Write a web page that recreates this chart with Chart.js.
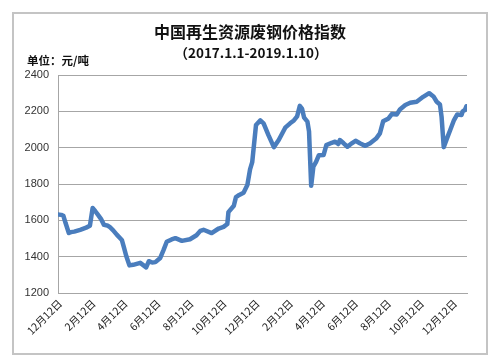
<!DOCTYPE html>
<html>
<head>
<meta charset="utf-8">
<script src="https://cdn.jsdelivr.net/npm/chart.js@4.4.0/dist/chart.umd.min.js"></script>
<style>
  html, body { margin: 0; padding: 0; background: #fff; }
  #wrap { position: relative; width: 500px; height: 363px; }
  #frame { position: absolute; left: 12px; top: 12px; width: 472px; height: 339px; border: 2px solid #c4c4c4; }
  #c { position: absolute; left: 0; top: 0; }
</style>
</head>
<body>
<div id="wrap">
  <div id="frame"></div>
  <canvas id="c" width="500" height="363"></canvas>
</div>
<script>
const titleText = '中国再生资源废钢价格指数';
const subtitleText = '（2017.1.1-2019.1.10）';
const unitText = '单位：元/吨';

const baseDate = '2016-12-12';
const tickDates = ['2016-12-12','2017-02-12','2017-04-12','2017-06-12','2017-08-12','2017-10-12','2017-12-12',
                   '2018-02-12','2018-04-12','2018-06-12','2018-08-12','2018-10-12','2018-12-12'];
const tickLabels = ['12月12日','2月12日','4月12日','6月12日','8月12日','10月12日','12月12日',
                    '2月12日','4月12日','6月12日','8月12日','10月12日','12月12日'];
const yTicks = [1200, 1400, 1600, 1800, 2000, 2200, 2400];

// day offsets from 2016-12-12
const days = [-4, 2, 6, 10, 16, 20, 26, 37, 48, 55, 60, 65, 70, 76, 81, 87, 92, 98, 105, 114, 118, 122, 128, 135,
  148, 159, 164, 170, 176, 185, 191, 197, 206, 213, 225, 240, 252, 259, 265, 280, 293, 302, 309, 311, 321, 325,
  331, 339, 346, 351, 355, 362, 370, 376, 385, 395, 404, 416, 425, 432, 438, 443, 447, 451, 457, 460, 464, 468,
  473, 478, 487, 492, 502, 508, 514, 517, 524, 531, 539, 546, 554, 564, 573, 584, 591, 597, 607, 613, 622, 628,
  638, 647, 659, 671, 682, 690, 696, 702, 705, 709, 715, 721, 728, 734, 742, 744, 748, 751];
const prices = [1632, 1630, 1625, 1585, 1530, 1535, 1538, 1548, 1560, 1570, 1668, 1650, 1630, 1605, 1575, 1572,
  1562, 1545, 1520, 1492, 1450, 1405, 1352, 1355, 1366, 1341, 1375, 1368, 1370, 1393, 1436, 1482, 1495, 1502,
  1487, 1496, 1518, 1542, 1548, 1530, 1555, 1564, 1580, 1645, 1680, 1728, 1740, 1752, 1794, 1880, 1920, 2125,
  2150, 2134, 2069, 2003, 2042, 2110, 2134, 2150, 2172, 2230, 2215, 2165, 2143, 2090, 1790, 1895, 1922, 1958,
  1960, 2014, 2027, 2033, 2020, 2042, 2024, 2005, 2024, 2038, 2024, 2010, 2024, 2050, 2079, 2145, 2161, 2185,
  2182, 2210, 2235, 2247, 2253, 2280, 2300, 2282, 2253, 2238, 2170, 2003, 2051, 2097, 2152, 2183, 2180, 2200,
  2207, 2228];

const dayMs = 86400000;
const toDay = d => (Date.parse(d + 'T00:00:00Z') - Date.parse(baseDate + 'T00:00:00Z')) / dayMs;
const tickDays = tickDates.map(toDay);
const points = days.map((d, i) => ({ x: d, y: prices[i] }));

const headerPlugin = {
  id: 'header',
  afterDraw(chart) {
    const ctx = chart.ctx;
    ctx.save();
    ctx.fillStyle = '#111';
    ctx.textBaseline = 'middle';
    ctx.textAlign = 'center';
    ctx.font = 'bold 16px "Noto Sans CJK SC"';
    ctx.fillText(titleText, 250, 32);
    ctx.font = 'bold 13.5px "Noto Sans CJK SC"';
    ctx.fillText(subtitleText, 251, 53);
    ctx.textAlign = 'left';
    ctx.font = 'bold 11.5px "Noto Sans CJK SC"';
    ctx.fillText(unitText, 27, 61);
    ctx.restore();
  }
};

new Chart(document.getElementById('c'), {
  type: 'line',
  data: {
    datasets: [{
      data: points,
      borderColor: '#4a7dbd',
      borderWidth: 4.5,
      pointRadius: 0,
      tension: 0,
      fill: false,
      borderJoinStyle: 'round',
      borderCapStyle: 'round'
    }]
  },
  options: {
    responsive: false,
    devicePixelRatio: 1,
    animation: false,
    layout: { padding: { left: 0, right: 33, top: 75, bottom: 0 } },
    plugins: { legend: { display: false }, tooltip: { enabled: false }, title: { display: false } },
    scales: {
      x: {
        type: 'linear',
        min: -4,
        max: 752,
        grid: { display: false, drawTicks: false },
        border: { display: true, color: '#a6a6a6', width: 1 },
        afterBuildTicks: scale => { scale.ticks = tickDays.map(v => ({ value: v })); },
        afterFit: scale => { scale.height = 70; },
        ticks: {
          autoSkip: false,
          maxRotation: 45,
          minRotation: 45,
          padding: 4,
          color: '#222',
          font: { family: '"Noto Sans CJK SC"', size: 10.5 },
          callback: (v, i) => tickLabels[i]
        }
      },
      y: {
        min: 1200,
        max: 2400,
        afterBuildTicks: scale => { scale.ticks = yTicks.map(v => ({ value: v })); },
        afterFit: scale => { scale.width = 58; },
        grid: { color: '#a6a6a6', lineWidth: 1, drawTicks: false },
        border: { display: true, color: '#a6a6a6', width: 1 },
        ticks: {
          padding: 9,
          color: '#333',
          font: { family: '"Liberation Sans"', size: 11 },
          callback: v => String(v)
        }
      }
    }
  },
  plugins: [headerPlugin]
});
</script>
</body>
</html>
